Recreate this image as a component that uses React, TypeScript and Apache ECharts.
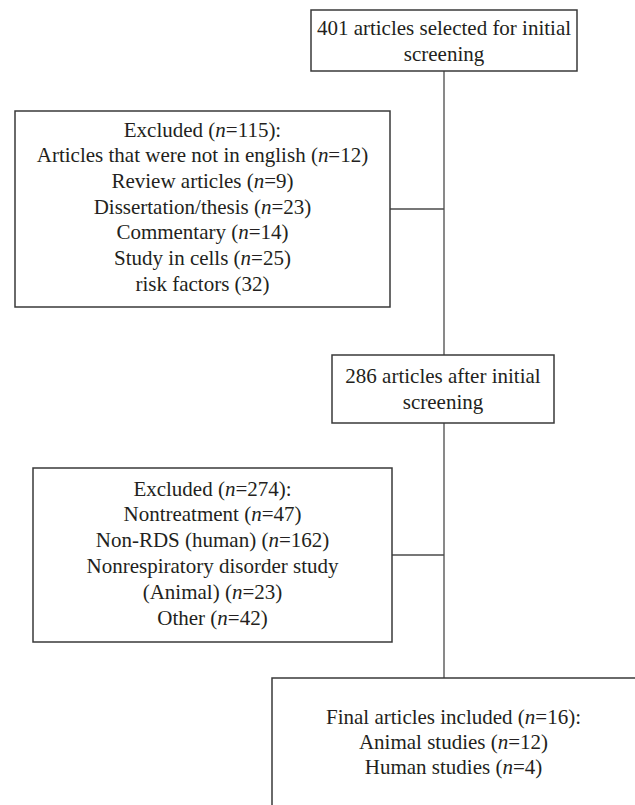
import React, { useEffect, useRef } from "react";
import * as echarts from "echarts";

// ---- data ----
const initialTotal = 401;
const firstExcluded = 115;
const firstReasons = [
  "Articles that were not in english",
  "Review articles",
  "Dissertation/thesis",
  "Commentary",
  "Study in cells",
  "risk factors",
];
const firstCounts = [12, 9, 23, 14, 25, 32];
const firstShowN = [true, true, true, true, true, false];

const afterScreening = 286;
const secondExcluded = 274;
const secondReasons = [
  "Nontreatment",
  "Non-RDS (human)",
  "Nonrespiratory disorder study\n(Animal)",
  "Other",
];
const secondCounts = [47, 162, 23, 42];

const finalTotal = 16;
const finalGroups = ["Animal studies", "Human studies"];
const finalCounts = [12, 4];

// ---- styles ----
const FONT = '"Liberation Serif", "Times New Roman", serif';
const FS = 21;
const TEXT = "#231f20";
const BOX_STROKE = "#3a3a3a";
const LINE_STROKE = "#4a4a4a";

const nLabel = (count: number, showN = true) =>
  showN ? `({i|n}=${count})` : `(${count})`;

function reasonLines(reasons: string[], counts: number[], flags?: boolean[]) {
  const out: string[] = [];
  reasons.forEach((r, idx) => {
    const parts = r.split("\n");
    parts.forEach((p, j) => {
      if (j === parts.length - 1) {
        out.push(`${p} ${nLabel(counts[idx], flags ? flags[idx] : true)}`);
      } else out.push(p);
    });
  });
  return out;
}

export default function App() {
  const ref = useRef<HTMLDivElement>(null);
  useEffect(() => {
    document.body.style.margin = "0";
    const chart = echarts.init(ref.current!, null, { renderer: "svg" });

    const rich = {
      i: { fontStyle: "italic", fontSize: FS, fontFamily: FONT, fill: TEXT },
    };

    const textLines = (lines: string[], cx: number, firstY: number, step: number) =>
      lines.map((t, k) => ({
        type: "text",
        style: {
          text: t,
          x: cx,
          y: firstY + k * step,
          align: "center",
          verticalAlign: "middle",
          fontSize: FS,
          fontFamily: FONT,
          fill: TEXT,
          rich,
        },
        z: 10,
      }));

    const box = (x: number, y: number, w: number, h: number) => ({
      type: "rect",
      shape: { x, y, width: w, height: h },
      style: { fill: "#fff", stroke: BOX_STROKE, lineWidth: 1.5 },
      z: 5,
    });

    const line = (x1: number, y1: number, x2: number, y2: number) => ({
      type: "line",
      shape: { x1, y1, x2, y2 },
      style: { stroke: LINE_STROKE, lineWidth: 1.3 },
      z: 1,
    });

    const box1Lines = [`${initialTotal} articles selected for initial`, "screening"];
    const box2Lines = [
      `Excluded ${nLabel(firstExcluded)}:`,
      ...reasonLines(firstReasons, firstCounts, firstShowN),
    ];
    const box3Lines = [`${afterScreening} articles after initial`, "screening"];
    const box4Lines = [
      `Excluded ${nLabel(secondExcluded)}:`,
      ...reasonLines(secondReasons, secondCounts),
    ];
    const box5Lines = [
      `Final articles included ${nLabel(finalTotal)}:`,
      ...finalGroups.map((g, k) => `${g} ${nLabel(finalCounts[k])}`),
    ];

    const trunkX = 444;

    chart.setOption({
      animation: false,
      backgroundColor: "#fff",
      graphic: [
        line(trunkX, 71, trunkX, 355),
        line(trunkX, 423, trunkX, 678),
        line(390, 209, trunkX, 209),
        line(392, 555, trunkX, 555),
        box(311, 10, 266, 61),
        box(15, 111, 375, 196),
        box(332, 355, 222, 68),
        box(33, 468, 359, 174),
        box(272, 678, 380, 160),
        ...textLines(box1Lines, 444, 27.5, 26),
        ...textLines(box2Lines, 202.5, 129.5, 25.67),
        ...textLines(box3Lines, 443, 375.5, 26.5),
        ...textLines(box4Lines, 212.5, 488.5, 25.8),
        ...textLines(box5Lines, 453.5, 717, 25),
      ],
    });
    return () => chart.dispose();
  }, []);
  return <div ref={ref} style={{ width: 635, height: 805 }} />;
}
